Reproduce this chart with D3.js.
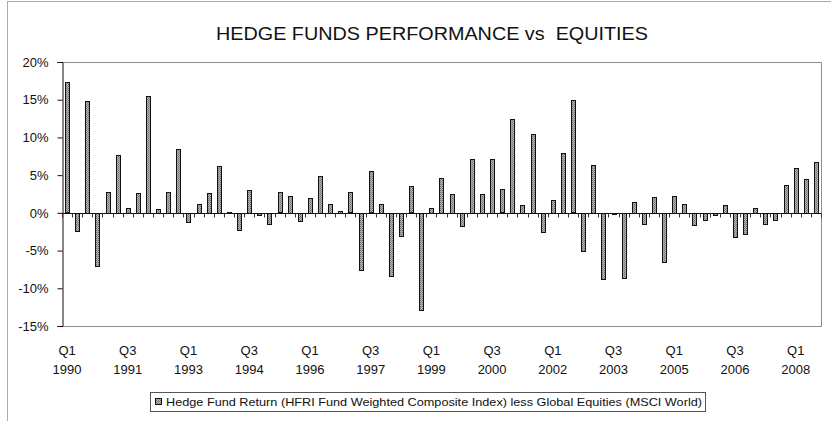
<!DOCTYPE html>
<html>
<head>
<meta charset="utf-8">
<script src="https://cdn.jsdelivr.net/npm/d3@7"></script>
<style>
    body { margin: 0; background: #fff; }
    svg { display: block; }
    text { font-family: "Liberation Sans", Arial, sans-serif; fill: #111; }
</style>
</head>
<body>
<svg id="chart" width="831" height="421"></svg>
<script>
// quarterly excess return, hedge funds minus global equities (%)
let quarters = [];
for(let y = 1990; y <= 2008; y++) {
    for(let q = 1; q <= 4; q++) {
        if(y === 2008 && q > 3) break;
        quarters.push("Q" + q + " " + y);
    }
}

let excess = [
    17.3, -2.4, 14.8, -7.0, 2.8, 7.7, 0.7, 2.6, 15.5, 0.5, 2.8, 8.5,
    -1.2, 1.2, 2.6, 6.2, 0.1, -2.3, 3.0, -0.2, -1.5, 2.7, 2.3, -1.0,
    2.0, 4.9, 1.2, 0.3, 2.7, -7.6, 5.5, 1.2, -8.4, -3.1, 3.5, -12.9,
    0.7, 4.6, 2.5, -1.7, 7.1, 2.5, 7.1, 3.1, 12.4, 1.1, 10.5, -2.5,
    1.7, 7.9, 14.9, -5.0, 6.3, -8.8, 0.0, -8.6, 1.5, -1.4, 2.1, -6.5,
    2.3, 1.2, -1.6, -0.9, -0.2, 1.1, -3.2, -2.8, 0.7, -1.4, -0.9, 3.7,
    6.0, 4.5, 6.7
];

let yTicks = [-15, -10, -5, 0, 5, 10, 15, 20];
let labelEvery = 6;
let title = "HEDGE FUNDS PERFORMANCE vs  EQUITIES";
let legendLabel = "Hedge Fund Return (HFRI Fund Weighted Composite Index) less Global Equities (MSCI World)";

let svg = d3.select("#chart");

let plot = {left: 62, right: 821, top: 62, bottom: 326};

let xScale = d3.scaleBand()
    .domain(quarters)
    .range([plot.left, plot.right])
    .paddingInner(0.6)
    .paddingOuter(0.3);

let yScale = d3.scaleLinear()
    .domain([-15, 20])
    .range([plot.bottom, plot.top]);

// halftone-ish fill like the scanned excel bars
let defs = svg.append("defs");
let pat = defs.append("pattern")
    .attr("id", "dots")
    .attr("width", 2)
    .attr("height", 2)
    .attr("patternUnits", "userSpaceOnUse");
pat.append("rect").attr("width", 2).attr("height", 2).attr("fill", "#b4b4b4");
pat.append("rect").attr("width", 1).attr("height", 1).attr("fill", "#6e6e6e");
pat.append("rect").attr("x", 1).attr("y", 1).attr("width", 1).attr("height", 1).attr("fill", "#8a8a8a");

// chart area frame (cropped at right and bottom)
svg.append("rect")
    .attr("x", 7.5)
    .attr("y", 1.5)
    .attr("width", 900)
    .attr("height", 500)
    .attr("fill", "none")
    .attr("stroke", "#aaa");

// plot area frame
svg.append("path")
    .attr("d", `M${plot.left},${plot.top + 0.5}H${plot.right + 0.5}V${plot.bottom + 0.5}H${plot.left}`)
    .attr("fill", "none")
    .attr("stroke", "#8c8c8c");

// title
svg.append("text")
    .attr("x", 432)
    .attr("y", 40)
    .attr("text-anchor", "middle")
    .style("font-size", "18px")
    .style("white-space", "pre")
    .attr("textLength", 432)
    .attr("lengthAdjust", "spacingAndGlyphs")
    .text(title);

// bars
svg.append("g")
    .selectAll("rect")
    .data(excess)
    .enter()
    .append("rect")
    .attr("x", (d, i) => Math.round(xScale(quarters[i])) + 0.5)
    .attr("y", d => Math.round(yScale(Math.max(0, d))) + 0.5)
    .attr("width", Math.round(xScale.bandwidth()))
    .attr("height", d => Math.max(1, Math.round(Math.abs(yScale(d) - yScale(0)))))
    .attr("fill", "url(#dots)")
    .attr("stroke", "#111")
    .attr("stroke-width", 1);

// y axis
let yAxis = svg.append("g")
    .attr("transform", `translate(${plot.left + 0.5},0)`)
    .call(d3.axisLeft(yScale)
        .tickValues(yTicks)
        .tickSize(5)
        .tickPadding(9)
        .tickFormat(d => d + "%"));
yAxis.select(".domain").attr("stroke", "#111");
yAxis.selectAll("line").attr("stroke", "#111");
yAxis.selectAll("text")
    .style("font-size", "13px")
    .style("font-family", "'Liberation Sans', Arial, sans-serif")
    .attr("fill", "#111");

// x axis along zero, ticks between categories
let zeroY = Math.round(yScale(0)) + 0.5;
svg.append("line")
    .attr("x1", plot.left)
    .attr("x2", plot.right)
    .attr("y1", zeroY)
    .attr("y2", zeroY)
    .attr("stroke", "#111");

let step = xScale.step();
svg.append("g")
    .selectAll("line")
    .data(d3.range(quarters.length + 1))
    .enter()
    .append("line")
    .attr("x1", i => Math.round(plot.left + i * step) + 0.5)
    .attr("x2", i => Math.round(plot.left + i * step) + 0.5)
    .attr("y1", zeroY)
    .attr("y2", zeroY + 4)
    .attr("stroke", "#333");

// category labels, every 6th quarter
let shown = quarters.filter((q, i) => i % labelEvery === 0);
let lab = svg.append("g")
    .selectAll("text")
    .data(shown)
    .enter()
    .append("text")
    .attr("x", d => xScale(d) + xScale.bandwidth() / 2)
    .attr("text-anchor", "middle")
    .style("font-size", "13px");
lab.append("tspan")
    .attr("x", d => xScale(d) + xScale.bandwidth() / 2)
    .attr("y", 355)
    .text(d => d.split(" ")[0]);
lab.append("tspan")
    .attr("x", d => xScale(d) + xScale.bandwidth() / 2)
    .attr("y", 374)
    .text(d => d.split(" ")[1]);

// legend
let legend = svg.append("g");
legend.append("rect")
    .attr("x", 150.5)
    .attr("y", 392.5)
    .attr("width", 555)
    .attr("height", 19)
    .attr("fill", "#fff")
    .attr("stroke", "#555");
legend.append("rect")
    .attr("x", 155.5)
    .attr("y", 398.5)
    .attr("width", 6)
    .attr("height", 6)
    .attr("fill", "url(#dots)")
    .attr("stroke", "#111");
legend.append("text")
    .attr("x", 166)
    .attr("y", 406)
    .style("font-size", "11.5px")
    .attr("textLength", 536)
    .attr("lengthAdjust", "spacingAndGlyphs")
    .text(legendLabel);
</script>
</body>
</html>
